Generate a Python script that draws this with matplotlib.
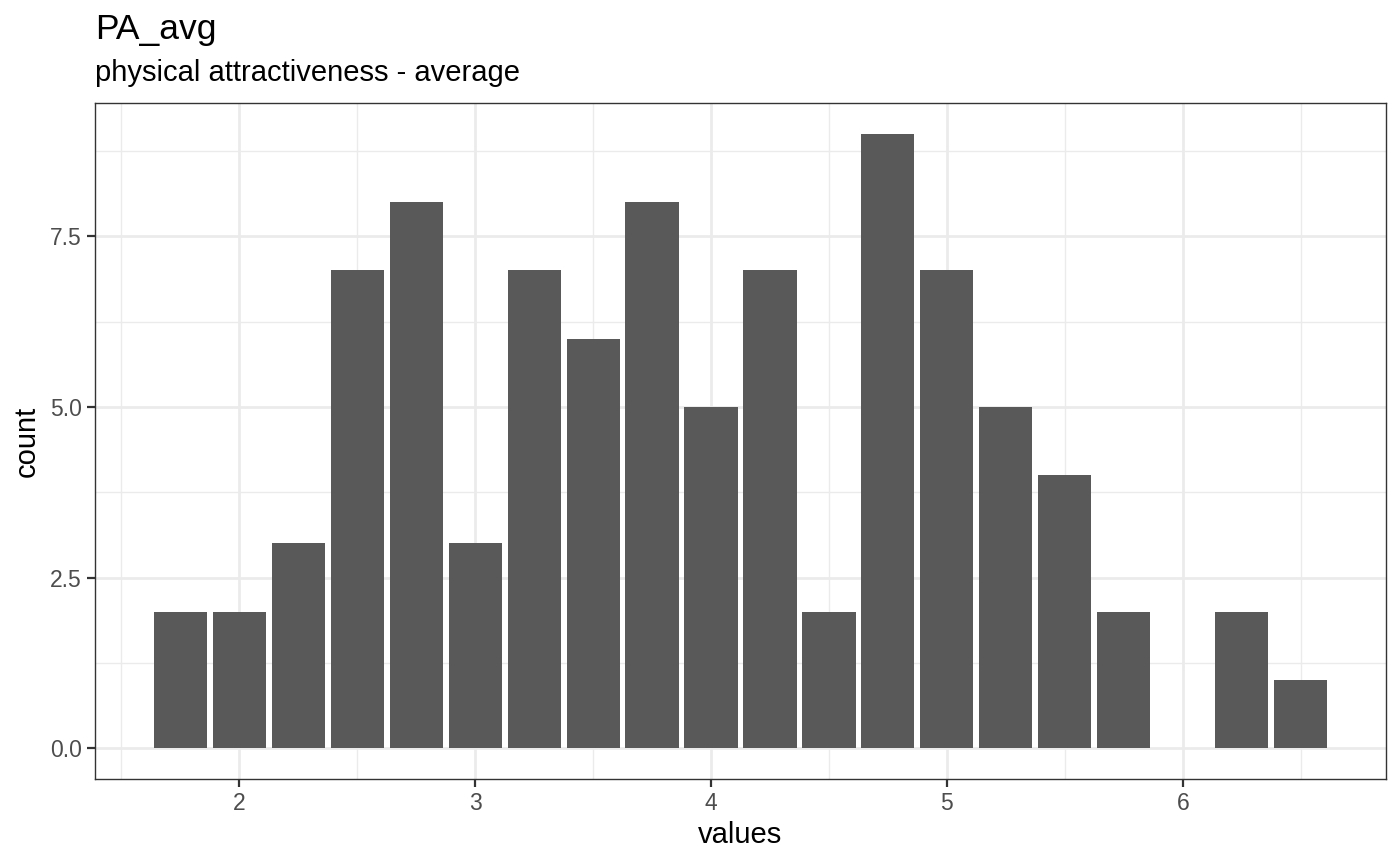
import matplotlib
matplotlib.use("Agg")
import matplotlib.pyplot as plt
from matplotlib.ticker import FixedLocator

# histogram bins (bin centres) and counts
bin_centers = [1.75, 2.0, 2.25, 2.5, 2.75, 3.0, 3.25, 3.5, 3.75, 4.0,
               4.25, 4.5, 4.75, 5.0, 5.25, 5.5, 5.75, 6.0, 6.25, 6.5]
counts = [2, 2, 3, 7, 8, 3, 7, 6, 8, 5,
          7, 2, 9, 7, 5, 4, 2, 0, 2, 1]
x_ticks = [2, 3, 4, 5, 6]
y_ticks = [0.0, 2.5, 5.0, 7.5]
y_tick_labels = ["0.0", "2.5", "5.0", "7.5"]

plt.rcParams["font.family"] = ["Liberation Sans", "DejaVu Sans"]

fig = plt.figure(figsize=(14, 8.65), dpi=100)
ax = fig.add_axes([95 / 1400, 1 - 779 / 865, (1386 - 95) / 1400, (779 - 103) / 865])

ax.bar(bin_centers, counts, width=0.225, color="#595959", zorder=3)

ax.set_xlim(1.389, 6.861)
ax.set_ylim(-0.45, 9.45)

ax.xaxis.set_major_locator(FixedLocator(x_ticks))
ax.xaxis.set_minor_locator(FixedLocator([1.5, 2.5, 3.5, 4.5, 5.5, 6.5]))
ax.yaxis.set_major_locator(FixedLocator(y_ticks))
ax.yaxis.set_minor_locator(FixedLocator([1.25, 3.75, 6.25, 8.75]))
ax.set_yticklabels(y_tick_labels)

ax.grid(which="major", color="#EBEBEB", linewidth=2.0, zorder=0)
ax.grid(which="minor", color="#EBEBEB", linewidth=1.0, zorder=0)
ax.set_axisbelow(True)

for sp in ax.spines.values():
    sp.set_color("#333333")
    sp.set_linewidth(1.0)

ax.tick_params(which="major", length=5.5, width=1.6, color="#333333",
               labelsize=16.5, labelcolor="#4D4D4D", pad=4)
ax.tick_params(which="minor", length=0)

# axis titles placed in figure pixels, like the ggplot layout
fig.text(740 / 1400, 1 - 835 / 865, "values", fontsize=21, ha="center", va="center")
fig.text(27 / 1400, 1 - 441 / 865, "count", fontsize=21, ha="center", va="center",
         rotation=90)

fig.text(95 / 1400, 1 - 30 / 865, "PA_avg", fontsize=25.5, va="center", ha="left")
fig.text(95 / 1400, 1 - 73 / 865, "physical attractiveness - average", fontsize=21,
         va="center", ha="left")

fig.savefig("out.png", dpi=100)
